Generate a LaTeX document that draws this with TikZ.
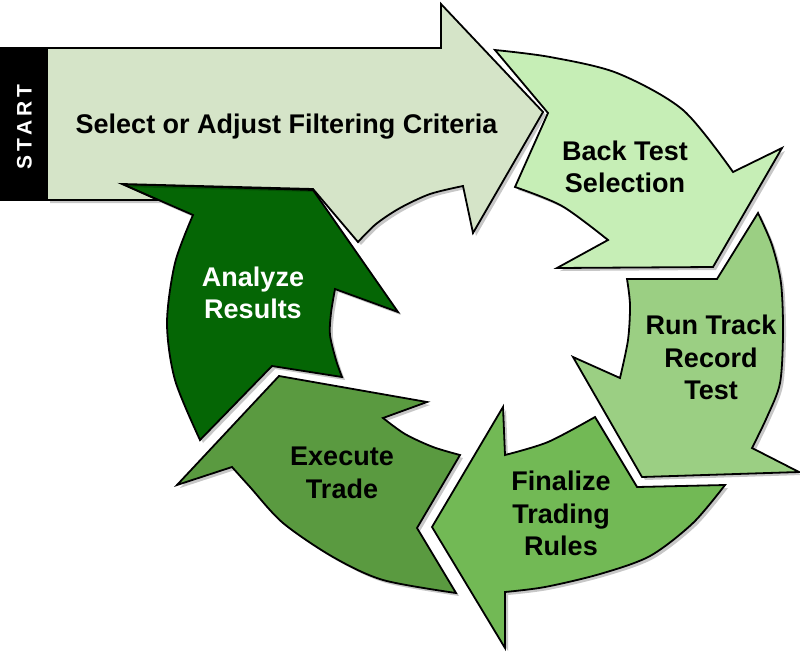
\documentclass[tikz,border=0pt]{standalone}
\usepackage{fontspec}
\setmainfont{Liberation Sans}
\definecolor{cA}{HTML}{D5E4C8}
\definecolor{cB}{HTML}{C6EEB6}
\definecolor{cC}{HTML}{9BCF83}
\definecolor{cF}{HTML}{72B955}
\definecolor{cE}{HTML}{5A9A40}
\definecolor{cD}{HTML}{056605}
\def\pA{(47,48) -- (441,48) -- (441,4) -- (543,112) -- (473,233) -- (463,186) -- plot[smooth] coordinates {(463,186) (430,194) (400,208) (376,224) (358,242)} -- (313,189) -- (122,184) -- (158,200) -- (47,200) -- cycle}
\def\pB{(495,50) -- plot[smooth] coordinates {(495,50) (550,57) (617,73) (683,110) (733,172)} -- (782,148) -- (713,267) -- (557,268) -- (608,240) -- plot[smooth] coordinates {(608,240) (562,206) (515,187)} -- (548,113) -- cycle}
\def\pC{(627,279) -- (717,279) -- (758,213) -- plot[smooth] coordinates {(758,213) (772,245) (781,283) (783,333) (780,383) (767,417) (752,448)} -- (799,472) -- (642,477) -- (573,357) -- (620,378) -- plot[smooth] coordinates {(620,378) (628,340) (630,305) (627,279)} -- cycle}
\def\pF{(432,527) -- (503,407) -- (505,455) -- plot[smooth] coordinates {(505,455) (548,442) (595,417)} -- (637,487) -- (725,485) -- plot[smooth] coordinates {(725,485) (693,523) (650,556) (600,574) (545,587) (505,592)} -- (505,648) -- cycle}
\def\pE{(177,485) -- (279,376) -- (427,402) -- (383,418) -- plot[smooth] coordinates {(383,418) (405,434) (433,447) (460,455)} -- (417,528) -- (456,593) -- plot[smooth] coordinates {(456,593) (383,580) (333,557) (283,523) (250,487) (232,467)} -- cycle}
\def\pD{(122,184) -- (313,190) -- (398,312) -- (335,289) -- plot[smooth] coordinates {(335,289) (331,313) (330,335) (336,360) (342,377)} -- (272,366) -- (200,440) -- plot[smooth] coordinates {(200,440) (175,380) (167,323) (175,263) (193,215)} -- cycle}
\begin{document}
\begin{tikzpicture}[x=1pt,y=-1pt,
  lbl/.style={font=\fontsize{27}{32.5}\selectfont\bfseries, align=center, inner sep=0pt},
  shd/.style={fill=black, opacity=0.22, shift={(3,3)}},
  outline/.style={draw=black, line width=1.8pt, line join=miter}]
\useasboundingbox (0,0) rectangle (800,651);
\fill[white] (0,0) rectangle (800,651);
% stacking order: D, E, F, C, B, A
\fill[shd] \pD;
\filldraw[outline, fill=cD] \pD;
\fill[shd] \pE;
\filldraw[outline, fill=cE] \pE;
\fill[shd] \pF;
\filldraw[outline, fill=cF] \pF;
\fill[shd] \pC;
\filldraw[outline, fill=cC] \pC;
\fill[shd] \pB;
\filldraw[outline, fill=cB] \pB;
\fill[shd] \pA;
\filldraw[outline, fill=cA] \pA;
% start bar
\fill[black] (0,47) rectangle (47,201);
\node[font=\fontsize{21}{21}\selectfont\bfseries, text=white, rotate=90, inner sep=0pt] (start) at (24.5,127) {S\kern3.9pt T\kern3.9pt A\kern3.9pt R\kern3.9pt T};
% labels
\node[lbl, anchor=base] (tA) at (286.5,133) {Select or Adjust Filtering Criteria};
\node[lbl] (tB) at (625,167) {Back Test\\Selection};
\node[lbl] (tC) at (711,357.5) {Run Track\\Record\\Test};
\node[lbl] (tF) at (561,513.8) {Finalize\\Trading\\Rules};
\node[lbl] (tE) at (342,472.8) {Execute\\Trade};
\node[lbl, text=white] (tD) at (253,292.8) {Analyze\\Results};
\end{tikzpicture}
\end{document}
